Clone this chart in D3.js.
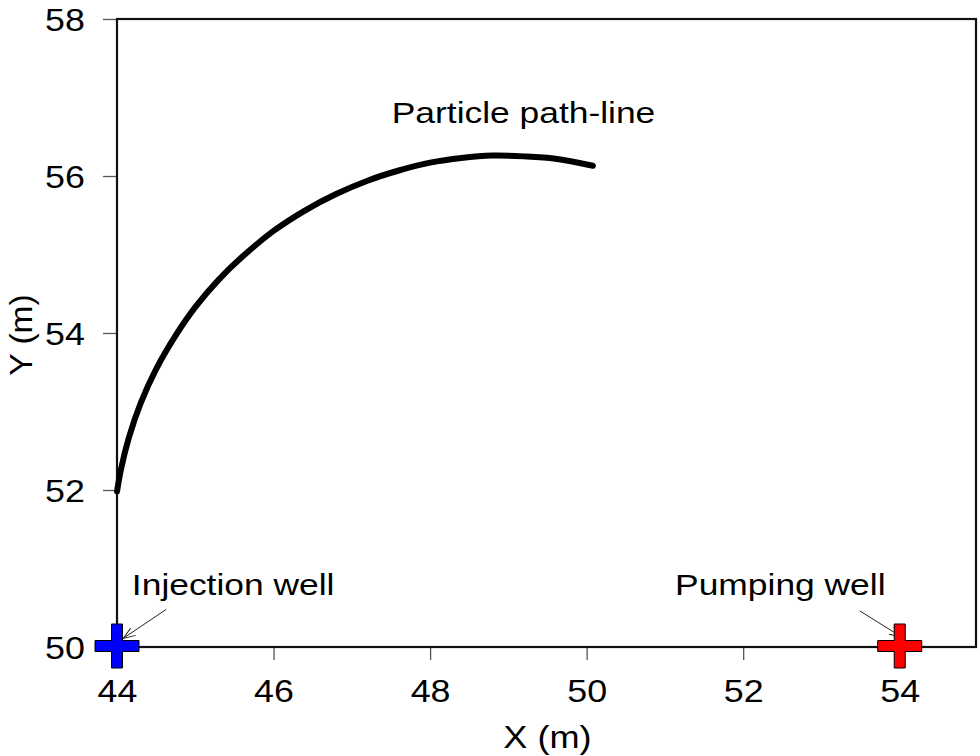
<!DOCTYPE html>
<html><head><meta charset="utf-8">
<script src="https://cdn.jsdelivr.net/npm/d3@7"></script>
<style>
body{margin:0;background:#fff;}
text{font-family:Arial,"Liberation Sans",sans-serif;fill:#000;}
</style></head>
<body><svg id="c" width="980" height="756"></svg>
<script>
const xTicks = [44,46,48,50,52,54];
const yTicks = [50,52,54,56,58];
const pathX = [44.00,44.05,44.15,44.30,44.50,44.75,45.00,45.30,45.60,46.00,46.40,46.80,47.20,47.60,48.00,48.40,48.80,49.20,49.60,50.08];
const pathY = [51.98,52.26,52.66,53.10,53.54,53.97,54.33,54.68,54.97,55.30,55.56,55.77,55.94,56.07,56.17,56.23,56.26,56.25,56.22,56.13];
const wellNames = ["Injection well","Pumping well"];
const wellX = [44,54];
const wellY = [50,50];
const wellColors = ["#0000ff","#ff0000"];
const labelX = [44.19,51.13];
const labelY = [50.66,50.66];
const arrowFromX = [44.63,53.49];
const arrowFromY = [50.48,50.46];
const arrowToX = [44.08,54.02];
const arrowToY = [50.11,50.13];
const pathLabel = "Particle path-line";
const pathLabelPos = [47.51,56.68];

const svg = d3.select("#c");
const L=117,T=19,R=978,B=647;
const x = d3.scaleLinear().domain([44,55]).range([L,R]);
const y = d3.scaleLinear().domain([50,58]).range([B,T]);
const SX = 1.12, SA = 1.18;

const xa = svg.append("g").attr("transform",`translate(0,${B})`)
  .call(d3.axisBottom(x).tickValues(xTicks).tickSize(13).tickPadding(19).tickFormat(d3.format("d")));
const ya = svg.append("g").attr("transform",`translate(${L},0)`)
  .call(d3.axisLeft(y).tickValues(yTicks).tickSize(14).tickPadding(14.6).tickFormat(d3.format("d")));
[xa,ya].forEach(a=>{
  a.select(".domain").remove();
  a.selectAll(".tick line").attr("stroke","#555").attr("stroke-width",1.3);
  a.selectAll(".tick text").style("font-size","32px").attr("fill","#000")
    .attr("transform",`scale(${SX},1)`);
});
ya.selectAll(".tick text").attr("dy","0.36em");

svg.append("rect").attr("x",L).attr("y",T).attr("width",R-L-2).attr("height",B-T)
  .attr("fill","none").attr("stroke","#111").attr("stroke-width",2.2);

const pts = pathX.map((v,i)=>[v,pathY[i]]);
svg.append("path").datum(pts)
  .attr("d",d3.line().x(d=>x(d[0])).y(d=>y(d[1])).curve(d3.curveCatmullRom.alpha(0.5)))
  .attr("fill","none").attr("stroke","#000").attr("stroke-width",6).attr("stroke-linecap","round");
svg.append("text").attr("transform",`translate(${x(pathLabelPos[0])},${y(pathLabelPos[1])}) scale(${SA},1)`)
  .style("font-size","30px").text(pathLabel);

svg.append("defs").append("marker").attr("id","arr")
  .attr("viewBox","0 0 12 12").attr("refX",12).attr("refY",6)
  .attr("markerWidth",12).attr("markerHeight",12).attr("markerUnits","userSpaceOnUse")
  .attr("orient","auto")
  .append("path").attr("d","M0,1.5 L12,6 L0,10.5").attr("fill","none").attr("stroke","#222").attr("stroke-width",1);

wellNames.forEach((n,i)=>{
  svg.append("text").attr("transform",`translate(${x(labelX[i])},${y(labelY[i])}) scale(${SA},1)`)
    .style("font-size","30px").text(n);
  svg.append("line").attr("x1",x(arrowFromX[i])).attr("y1",y(arrowFromY[i]))
    .attr("x2",x(arrowToX[i])).attr("y2",y(arrowToY[i]))
    .attr("stroke","#222").attr("stroke-width",1).attr("marker-end","url(#arr)");
  const cx=x(wellX[i]), cy=y(wellY[i])-1, a=22, t=5.5;
  const d=`M${cx-t},${cy-a}H${cx+t}V${cy-t}H${cx+a}V${cy+t}H${cx+t}V${cy+a}H${cx-t}V${cy+t}H${cx-a}V${cy-t}H${cx-t}Z`;
  svg.append("path").attr("d",d).attr("fill",wellColors[i]).attr("stroke","#000").attr("stroke-width",1);
});

svg.append("text").attr("transform",`translate(${(L+R)/2},748) scale(1.13,1)`).attr("text-anchor","middle")
  .style("font-size","32px").text("X (m)");
svg.append("text").attr("transform",`translate(32,${(T+B)/2+2}) rotate(-90) scale(1.05,1)`).attr("text-anchor","middle")
  .style("font-size","32px").text("Y (m)");
</script></body></html>
